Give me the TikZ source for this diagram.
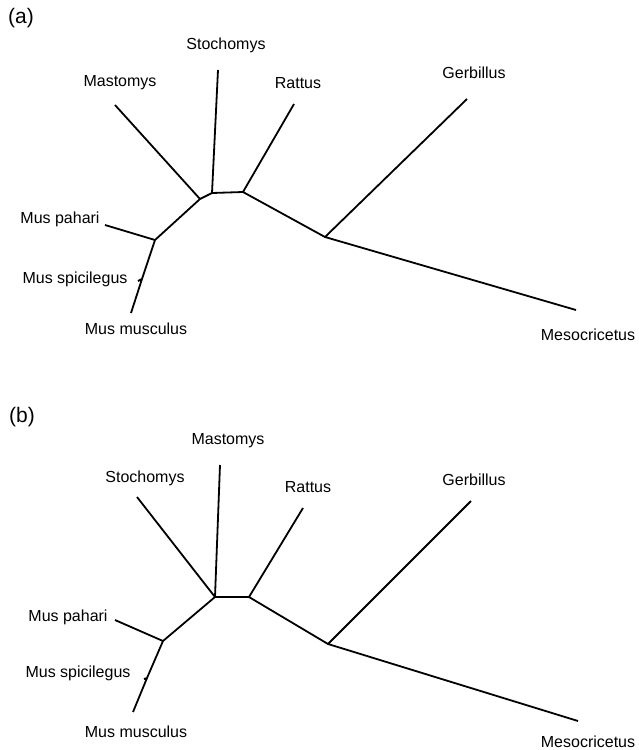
\documentclass[tikz,border=0pt]{standalone}
\usepackage{fontspec}
\setmainfont{Liberation Sans}
\usetikzlibrary{positioning}
\tikzset{
    taxon/.style={
           inner sep=1pt,
           font=\fontsize{16}{19}\selectfont,
           },
    paneltag/.style={
           inner sep=1pt,
           font=\fontsize{21}{24}\selectfont,
           },
    branch/.style={
           draw=black, line width=1.8pt,
           line join=round,
           },
}

\begin{document}
\begin{tikzpicture}[x=1pt,y=-1pt]
 \useasboundingbox (0,0) rectangle (638,750);
 % panel (a)
 \node[paneltag] (tagA) at (21,18) {(a)};
 \coordinate (aPah) at (155,240);
 \coordinate (aMas) at (200,199);
 \coordinate (aSto) at (212,193);
 \coordinate (aRat) at (243,192);
 \coordinate (aGer) at (325,237);
 \coordinate (aSpi) at (142,279);
 \coordinate (aStoEnd) at (218,70);
 \coordinate (aMasEnd) at (115,105);
 \coordinate (aRatEnd) at (294,104);
 \coordinate (aGerEnd) at (467,99);
 \coordinate (aMesEnd) at (576,310);
 \coordinate (aPahEnd) at (105,225);
 \coordinate (aSpiEnd) at (138,281);
 \coordinate (aMusEnd) at (131,313);
 \node[taxon] (aStoLbl) at (226,45) {Stochomys};
 \node[taxon] (aMasLbl) at (120,83) {Mastomys};
 \node[taxon] (aRatLbl) at (298,83) {Rattus};
 \node[taxon] (aGerLbl) at (474,73) {Gerbillus};
 \node[taxon] (aMesLbl) at (588,335) {Mesocricetus};
 \node[taxon] (aPahLbl) at (60,219) {Mus pahari};
 \node[taxon] (aSpiLbl) at (75,279) {Mus spicilegus};
 \node[taxon] (aMusLbl) at (136,329) {Mus musculus};
 \path[branch]
  (aMusEnd) -- (aSpi) -- (aPah) -- (aMas) -- (aSto) -- (aRat) -- (aGer) -- (aMesEnd)
  (aSpi) -- (aSpiEnd)
  (aPah) -- (aPahEnd)
  (aMas) -- (aMasEnd)
  (aSto) -- (aStoEnd)
  (aRat) -- (aRatEnd)
  (aGer) -- (aGerEnd)
 ;
 % panel (b)
 \node[paneltag] (tagB) at (22,417) {(b)};
 \coordinate (bPah) at (163,641);
 \coordinate (bMid) at (215,597);
 \coordinate (bRat) at (249,597);
 \coordinate (bGer) at (328,644);
 \coordinate (bSpi) at (147,678);
 \coordinate (bMasEnd) at (220,465);
 \coordinate (bStoEnd) at (137,497);
 \coordinate (bRatEnd) at (303,508);
 \coordinate (bGerEnd) at (471,501);
 \coordinate (bMesEnd) at (578,721);
 \coordinate (bPahEnd) at (115,620);
 \coordinate (bSpiEnd) at (144,679);
 \coordinate (bMusEnd) at (133,712);
 \node[taxon] (bMasLbl) at (228,441) {Mastomys};
 \node[taxon] (bStoLbl) at (145,478) {Stochomys};
 \node[taxon] (bRatLbl) at (308,487) {Rattus};
 \node[taxon] (bGerLbl) at (474,480) {Gerbillus};
 \node[taxon] (bMesLbl) at (588,742) {Mesocricetus};
 \node[taxon] (bPahLbl) at (68,617) {Mus pahari};
 \node[taxon] (bSpiLbl) at (78,673) {Mus spicilegus};
 \node[taxon] (bMusLbl) at (136,732) {Mus musculus};
 \path[branch]
  (bMusEnd) -- (bSpi) -- (bPah) -- (bMid) -- (bRat) -- (bGer) -- (bMesEnd)
  (bSpi) -- (bSpiEnd)
  (bPah) -- (bPahEnd)
  (bMid) -- (bMasEnd)
  (bMid) -- (bStoEnd)
  (bRat) -- (bRatEnd)
  (bGer) -- (bGerEnd)
 ;
\end{tikzpicture}
\end{document}
